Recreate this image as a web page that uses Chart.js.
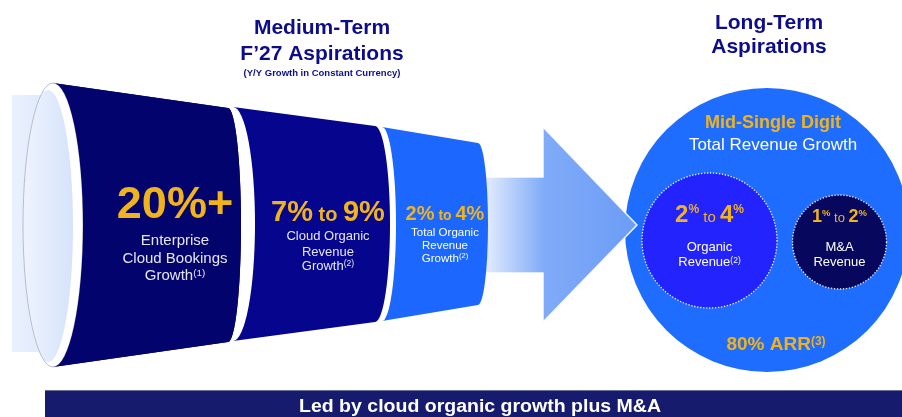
<!DOCTYPE html>
<html><head><meta charset="utf-8">
<script src="https://cdn.jsdelivr.net/npm/chart.js@4.4.0/dist/chart.umd.min.js"></script>
<style>html,body{margin:0;padding:0;background:#fff;overflow:hidden}#wrap{width:902px;height:417px}</style>
</head><body><div id="wrap"><canvas id="c" width="902" height="417"></canvas></div>
<script>
// ---------- DATA ----------
const headings = ['Medium-Term', 'F\u201927 Aspirations'];
const headingNote = '(Y/Y Growth in Constant Currency)';
const longHeadings = ['Long-Term', 'Aspirations'];
const stageLow = [20, 7, 2];
const stageHigh = [null, 9, 4];
const stageLabels = [['Enterprise', 'Cloud Bookings', 'Growth'], ['Cloud Organic', 'Revenue', 'Growth'], ['Total Organic', 'Revenue', 'Growth']];
const stageNotes = ['(1)', '(2)', '(2)'];
const totalTitle = 'Mid-Single Digit';
const totalSub = 'Total Revenue Growth';
const partLow = [2, 1];
const partHigh = [4, 2];
const partLabels = [['Organic', 'Revenue'], ['M&A', 'Revenue']];
const partNotes = ['(2)', ''];
const arrShare = 80;
const arrNote = '(3)';
const footer = 'Led by cloud organic growth plus M&A';

// ---------- LAYOUT / STYLE ----------
const FF = "'Liberation Sans', Arial, Helvetica, sans-serif";
const GOLD = '#f1b31c', NAVY_T = '#0d0d8c';
const segGeo = [
  {xl: 53, xr: 228, hl: 142, hr: 117, cy: 225, rx: 13, lrx: 30, color: '#03036d',
   cx: 175, vBase: 218, vSize: 45, toSize: 0, lSize: 15, lBase: [245, 263, 280]},
  {xl: 233, xr: 375, hl: 117, hr: 98, cy: 224, rx: 15, color: '#05058e',
   cx: 328, vBase: 221, vSize: 29, toSize: 20, lSize: 13, lBase: [240, 255.5, 270], open: {cx: 233, rx: 22}},
  {xl: 382, xr: 478, hl: 97, hr: 81, cy: 224, rx: 10, color: '#1c68ff',
   cx: 445, vBase: 220, vSize: 20, toSize: 14, lSize: 11.5, lBase: [235.5, 248.5, 261.5], open: {cx: 382, rx: 14}}
];
const bigCircle = {cx: 767, cy: 230, r: 142, color: '#1f6dff'};
const partGeo = [
  {cx: 709.5, cy: 240.5, r: 67.5, color: '#2323fe', dSize: 24, pSize: 12, tSize: 15, vBase: 222, lBase: [251, 266]},
  {cx: 839.5, cy: 242, r: 47, color: '#07075e', dSize: 18, pSize: 9.5, tSize: 13, vBase: 222, lBase: [251, 266]}
];

function runs(ctx, cx, base, parts) {
  let w = 0;
  parts.forEach(p => { ctx.font = p.f; p.w = ctx.measureText(p.t).width; w += p.w; });
  let x = cx - w / 2;
  parts.forEach(p => { ctx.font = p.f; ctx.fillStyle = p.c; ctx.fillText(p.t, x, base + (p.dy || 0)); x += p.w; });
}

const infographic = {
  id: 'infographic',
  afterDraw(chart) {
    const ctx = chart.ctx, xs = chart.scales.x, ys = chart.scales.y;
    const X = v => xs.getPixelForValue(v), Y = v => ys.getPixelForValue(v);
    const SX = d => X(d) - X(0), SY = d => Math.abs(Y(d) - Y(0));
    ctx.save();
    ctx.textAlign = 'left'; ctx.textBaseline = 'alphabetic';

    // ---- headings
    ctx.fillStyle = NAVY_T; ctx.textAlign = 'center';
    ctx.font = `bold 21px ${FF}`;
    ctx.fillText(headings[0], X(322), Y(34));
    ctx.fillText(headings[1], X(322), Y(60));
    ctx.font = `bold 9.5px ${FF}`;
    ctx.fillText(headingNote, X(322), Y(76));
    ctx.font = `bold 21px ${FF}`;
    ctx.fillText(longHeadings[0], X(769), Y(29));
    ctx.fillText(longHeadings[1], X(769), Y(53));
    ctx.textAlign = 'left';

    // ---- big circle
    ctx.fillStyle = bigCircle.color;
    ctx.beginPath(); ctx.arc(X(bigCircle.cx), Y(bigCircle.cy), SX(bigCircle.r), 0, Math.PI * 2); ctx.fill();

    // ---- inner circles
    partGeo.forEach((g, i) => {
      ctx.beginPath(); ctx.arc(X(g.cx), Y(g.cy), SX(g.r), 0, Math.PI * 2);
      ctx.fillStyle = g.color; ctx.fill();
      ctx.save(); ctx.strokeStyle = 'rgba(255,255,255,0.95)'; ctx.lineWidth = 1.3; ctx.setLineDash([1.3, 1.7]);
      ctx.stroke(); ctx.restore();
      const dF = `bold ${g.dSize}px ${FF}`, pF = `bold ${g.pSize}px ${FF}`, tF = `${g.tSize}px ${FF}`;
      const pdy = -(g.dSize - g.pSize) * 0.716;
      runs(ctx, X(g.cx), Y(g.vBase), [
        {t: String(partLow[i]), f: dF, c: GOLD}, {t: '%', f: pF, c: GOLD, dy: pdy},
        {t: ' to ', f: tF, c: GOLD}, {t: String(partHigh[i]), f: dF, c: GOLD}, {t: '%', f: pF, c: GOLD, dy: pdy}
      ]);
      ctx.fillStyle = '#fff'; ctx.font = `13px ${FF}`;
      ctx.textAlign = 'center';
      ctx.fillText(partLabels[i][0], X(g.cx), Y(g.lBase[0]));
      ctx.textAlign = 'left';
      runs(ctx, X(g.cx), Y(g.lBase[1]), [
        {t: partLabels[i][1], f: `13px ${FF}`, c: '#fff'},
        {t: partNotes[i], f: `8.5px ${FF}`, c: '#fff', dy: -3.5}
      ]);
    });

    // big circle texts
    ctx.textAlign = 'center';
    ctx.fillStyle = GOLD; ctx.font = `bold 18px ${FF}`;
    ctx.fillText(totalTitle, X(773), Y(128));
    ctx.fillStyle = '#fff'; ctx.font = `17px ${FF}`;
    ctx.fillText(totalSub, X(773), Y(150));
    ctx.textAlign = 'left';
    runs(ctx, X(776), Y(350), [
      {t: arrShare + '% ARR', f: `bold 19px ${FF}`, c: GOLD},
      {t: arrNote, f: `bold 12px ${FF}`, c: GOLD, dy: -5.5}
    ]);

    // ---- arrow
    const ag = ctx.createLinearGradient(X(482), 0, X(637), 0);
    ag.addColorStop(0, '#e8f0fe'); ag.addColorStop(0.4, '#80abf8'); ag.addColorStop(1, '#6c9cf6');
    ctx.beginPath();
    ctx.moveTo(X(470), Y(177)); ctx.lineTo(X(543), Y(177)); ctx.lineTo(X(543), Y(127));
    ctx.lineTo(X(637), Y(225)); ctx.lineTo(X(543), Y(322)); ctx.lineTo(X(543), Y(273)); ctx.lineTo(X(470), Y(273));
    ctx.closePath();
    ctx.fillStyle = ag; ctx.fill();
    ctx.strokeStyle = 'rgba(255,255,255,0.9)'; ctx.lineWidth = 1.5; ctx.stroke();

    // ---- tail & opening
    const tg = ctx.createLinearGradient(X(12), 0, X(75), 0);
    tg.addColorStop(0, '#eaf1fe'); tg.addColorStop(1, '#d5e3fb');
    ctx.fillStyle = tg; ctx.fillRect(X(12), Y(95), SX(45), SY(257));

    function segPath(s) {
      ctx.beginPath();
      ctx.moveTo(X(s.xl), Y(s.cy - s.hl));
      ctx.lineTo(X(s.xr), Y(s.cy - s.hr));
      ctx.ellipse(X(s.xr), Y(s.cy), SX(s.rx), SY(s.hr), 0, -Math.PI / 2, Math.PI / 2, false);
      ctx.lineTo(X(s.xl), Y(s.cy + s.hl));
      if (s.lrx) ctx.ellipse(X(s.xl), Y(s.cy), SX(s.lrx), SY(s.hl), 0, Math.PI / 2, -Math.PI / 2, true);
      ctx.closePath();
    }
    // draw back-to-front: seg3, seg2, seg1
    for (let i = segGeo.length - 1; i >= 0; i--) {
      const s = segGeo[i];
      segPath(s); ctx.fillStyle = s.color; ctx.fill();
      if (s.open) {
        ctx.beginPath(); ctx.ellipse(X(s.open.cx), Y(s.cy), SX(s.open.rx), SY(s.hl), 0, 0, Math.PI * 2);
        ctx.fillStyle = '#ffffff'; ctx.fill();
      }
      if (i === 0) {
        // opening of the first cup
        ctx.beginPath(); ctx.ellipse(X(53), Y(225), SX(30), SY(142), 0, 0, Math.PI * 2);
        ctx.fillStyle = '#ffffff'; ctx.fill();
        const ig = ctx.createLinearGradient(X(23), 0, X(75), 0);
        ig.addColorStop(0, '#eef4fe'); ig.addColorStop(1, '#d4e2fb');
        ctx.beginPath(); ctx.ellipse(X(48), Y(226), SX(25), SY(136), 0, 0, Math.PI * 2);
        ctx.fillStyle = ig; ctx.fill();
        ctx.beginPath(); ctx.ellipse(X(53), Y(225), SX(30), SY(142), 0, 0, Math.PI * 2);
        ctx.strokeStyle = '#b9bdc9'; ctx.lineWidth = 1; ctx.stroke();
        segPath(s); ctx.fillStyle = s.color; ctx.fill();
      }
    }
    // stage texts
    segGeo.forEach((s, i) => {
      const vF = `bold ${s.vSize}px ${FF}`;
      if (stageHigh[i] === null) {
        runs(ctx, X(s.cx), Y(s.vBase), [{t: stageLow[i] + '%+', f: vF, c: GOLD}]);
      } else {
        runs(ctx, X(s.cx), Y(s.vBase), [
          {t: stageLow[i] + '%', f: vF, c: GOLD}, {t: ' to ', f: `bold ${s.toSize}px ${FF}`, c: GOLD},
          {t: stageHigh[i] + '%', f: vF, c: GOLD}
        ]);
      }
      const lab = stageLabels[i], lc = i === 2 ? '#ffffff' : '#e6e6f2';
      ctx.textAlign = 'center'; ctx.fillStyle = lc; ctx.font = `${s.lSize}px ${FF}`;
      ctx.fillText(lab[0], X(s.cx), Y(s.lBase[0]));
      ctx.fillText(lab[1], X(s.cx), Y(s.lBase[1]));
      ctx.textAlign = 'left';
      runs(ctx, X(s.cx), Y(s.lBase[2]), [
        {t: lab[2], f: `${s.lSize}px ${FF}`, c: lc},
        {t: stageNotes[i], f: `${s.lSize * 0.66}px ${FF}`, c: lc, dy: -s.lSize * 0.3}
      ]);
    });

    // ---- footer banner
    ctx.fillStyle = '#161b6e'; ctx.fillRect(X(45), Y(390), SX(857), SY(27));
    ctx.fillStyle = '#6a6f9e'; ctx.fillRect(X(45), Y(390), SX(857), 1);
    ctx.font = `bold 18px ${FF}`; ctx.fillStyle = '#ffffff';
    const fw = ctx.measureText(footer).width, target = SX(362);
    ctx.save(); ctx.translate(X(480), Y(412)); ctx.scale(target / fw, 1);
    ctx.textAlign = 'center'; ctx.fillText(footer, 0, 0); ctx.restore();

    ctx.restore();
  }
};

new Chart(document.getElementById('c'), {
  type: 'scatter',
  data: {datasets: []},
  options: {
    responsive: false, animation: false, events: [],
    layout: {padding: 0},
    plugins: {legend: {display: false}, tooltip: {enabled: false}, title: {display: false}},
    scales: {
      x: {type: 'linear', min: 0, max: 902, display: false},
      y: {type: 'linear', min: 0, max: 417, reverse: true, display: false}
    }
  },
  plugins: [infographic]
});
</script></body></html>
